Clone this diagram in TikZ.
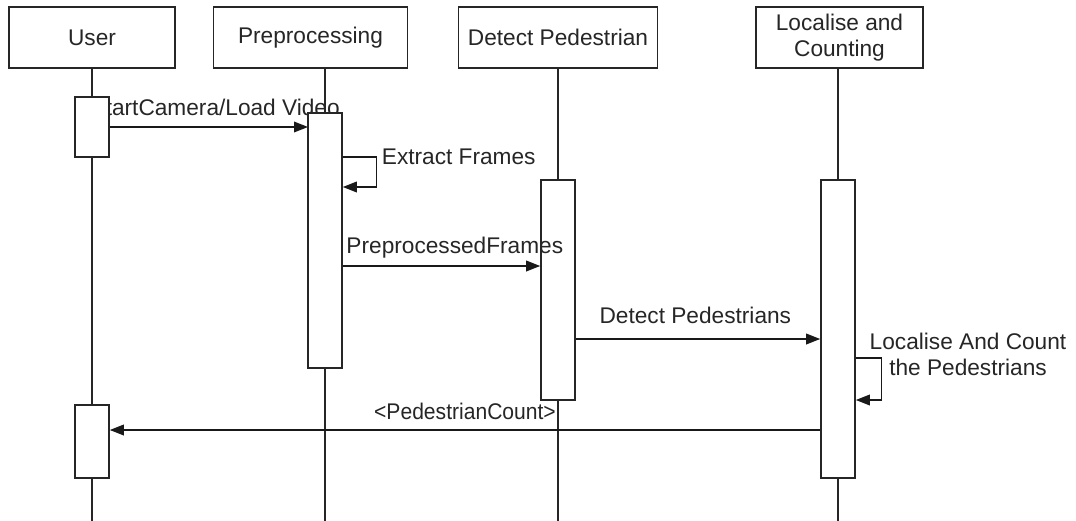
\documentclass[tikz,border=0pt]{standalone}
\usepackage{fontspec}
\setmainfont{Liberation Sans}
\usetikzlibrary{arrows.meta}
\tikzset{
  head/.style={draw=black!85, line width=1.2pt, fill=white, minimum height=45.75pt, inner sep=0pt, align=center, text=black!85, font=\fontsize{17}{19.5}\selectfont},
  act/.style={draw=black!85, line width=1.2pt, fill=white, minimum width=25.5pt, inner sep=0pt},
  life/.style={draw=black!85, line width=1pt},
  msg/.style={draw=black!90, line width=1pt, -{Triangle[length=10.5pt,width=8pt]}},
  lbl/.style={text=black!85, font=\fontsize{17}{19.5}\selectfont},
}
\begin{document}
\begin{tikzpicture}[x=0.75pt, y=-0.75pt]
			%%%%% START %%%%%
			\useasboundingbox (0,0) rectangle (1076,521);
			\coordinate (bot) at (0,521);
			
			% heads
			\node[head, minimum width=124.5pt] (user) at (92,37.5) {User};
			\node[head, minimum width=145.5pt] (pre) at (310.5,37.5) {Preprocessing};
			\node[head, minimum width=149.25pt] (det) at (558,37.5) {Detect Pedestrian};
			\node[head, minimum width=125.25pt] (loc) at (839.5,37.5) {Localise and\\Counting};
			
			% lifelines
			\coordinate (uline) at (92,0);
			\coordinate (pline) at (325,0);
			\coordinate (dline) at (558,0);
			\coordinate (lline) at (838,0);
			
			\foreach \h/\l in {user/uline, pre/pline, det/dline, loc/lline}
				\draw[life] (\l |- \h.south) -- (\l |- bot);
			
			% activations
			\node[act, minimum height=165pt] (dact) at (558,290) {};
			\node[act, minimum height=223.5pt] (lact) at (838,329) {};
			\node[act, minimum height=54.75pt] (uact2) at (92,441.5) {};
			
			% user -> preprocessing
			\coordinate (uout) at (109,127);
			\coordinate (pin) at (308,127);
			\draw[msg] (uout) -- (pin) node[lbl, midway, above=4.5pt, xshift=5pt] {StartCamera/Load Video};
			
			\node[act, minimum height=45pt] (uact1) at (92,127) {};
			\node[act, minimum height=191.25pt] (pact) at (325,240.5) {};
			
			% self calls
			\coordinate (s1) at (0,157);
			\draw[msg] (pact.east |- s1) -- ++(34,0) node[lbl, right] {Extract Frames} -- ++(0,30) -- ++(-34,0);
			
			\coordinate (s2) at (0,358);
			\draw[msg] (lact.east |- s2) -- ++(26,0) -- ++(0,42) -- ++(-26,0);
			\node[lbl, align=center] (lclbl) at (968,354) {Localise And Count\\the Pedestrians};
			
			% messages
			\coordinate (m2) at (0,266);
			\draw[msg] (pact.east |- m2) -- (dact.west |- m2) node[lbl, midway, above=2pt, xshift=10pt] {PreprocessedFrames};
			
			\coordinate (m3) at (0,339);
			\draw[msg] (dact.east |- m3) -- (lact.west |- m3) node[lbl, midway, above=8pt, xshift=-2pt] {Detect Pedestrians};
			
			\coordinate (m4) at (0,430);
			\draw[msg] (lact.west |- m4) -- (uact2.east |- m4) node[lbl, midway, above=4pt, xscale=0.93] {<PedestrianCount>};
			
			%%%%% END %%%%%
\end{tikzpicture}
\end{document}
